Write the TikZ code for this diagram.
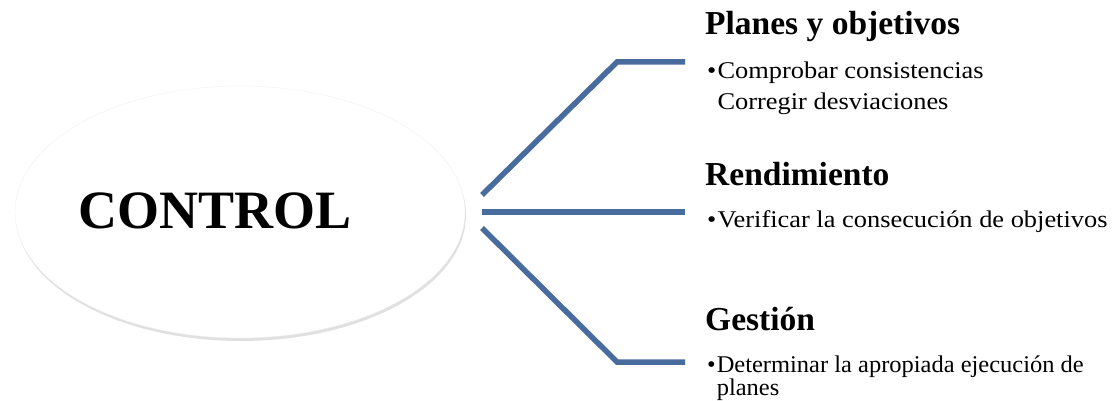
\documentclass[tikz,border=0pt]{standalone}
\usepackage{fontspec}
\setmainfont{Liberation Serif}
\usetikzlibrary{positioning,shapes.geometric,shadows}
\definecolor{branchblue}{RGB}{72,108,158}

\begin{document}
\begin{tikzpicture}[x=1pt,y=-1pt,
    head/.style={anchor=base west,inner sep=0pt,font=\bfseries\fontsize{33.5}{38}\selectfont},
    item/.style={anchor=base west,inner sep=0pt,align=left,xscale=1.1,transform shape,font=\fontsize{24}{31}\selectfont},
    branch/.style={draw=branchblue,line width=5.5pt}]
  \useasboundingbox (0,0) rectangle (1119,401);

  \node[ellipse,fill=white,draw=black!6,minimum width=450pt,minimum height=252pt,
        drop shadow={fill=black!20,opacity=0.6,shadow xshift=1pt,shadow yshift=-3pt}] (ctl) at (240,212) {};
  \node[anchor=base,inner sep=0pt,font=\bfseries\fontsize{54}{60}\selectfont] (ctltext) at (215.5,228) {CONTROL};

  \coordinate (u0) at (482,195);
  \coordinate (u1) at (617,62);
  \coordinate (u2) at (685,62);
  \coordinate (m0) at (482,212);
  \coordinate (m2) at (685,212);
  \coordinate (d0) at (482,228);
  \coordinate (d1) at (617,362);
  \coordinate (d2) at (685,362);
  \draw[branch] (u0) -- (u1) -- (u2);
  \draw[branch] (m0) -- (m2);
  \draw[branch] (d0) -- (d1) -- (d2);

  % multi-line items sit on the baseline of their last line
  \node[head] (planes) at (705,35) {Planes y objetivos};
  \node[item] (planesitem) at (707,110) {•\hspace{1pt}Comprobar consistencias\\\phantom{•}\hspace{1pt}Corregir desviaciones};
  \node[head] (rend) at (705,185) {Rendimiento};
  \node[item] (renditem) at (707,227) {•\hspace{1pt}Verificar la consecución de objetivos};
  \node[head] (gest) at (705,330) {Gestión};
  \node[item,xscale=1.02/1.1,font=\fontsize{24}{20}\selectfont] (gestitem) at (707,395) {•\hspace{1pt}Determinar la apropiada ejecución de\\\phantom{•}\hspace{1pt}planes};
\end{tikzpicture}
\end{document}
